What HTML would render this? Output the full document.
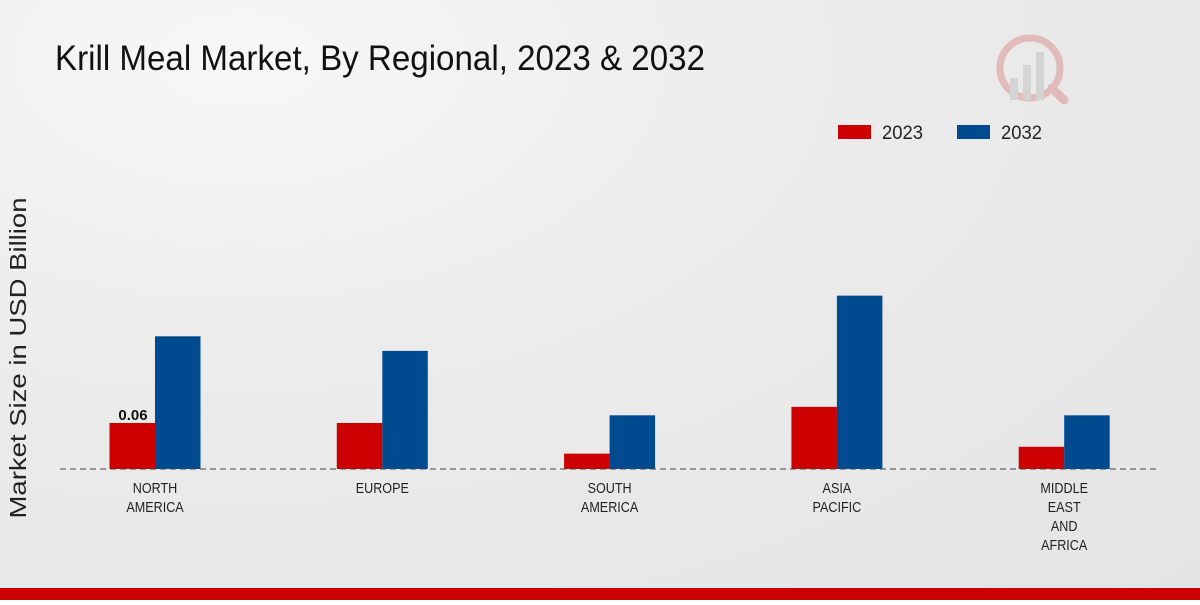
<!DOCTYPE html>
<html><head><meta charset="utf-8"><style>
body{margin:0;width:1200px;height:600px;overflow:hidden;font-family:"Liberation Sans",sans-serif;}
#bg{position:absolute;left:0;top:0;width:1200px;height:600px;background:radial-gradient(ellipse at 20% 10%,#f7f7f7 0%,#ebebeb 45%,#e4e4e4 100%);}
</style></head><body>
<div id="bg">
<svg id="c" width="1200" height="600">
<text x="55" y="70" font-size="35" fill="#111" textLength="650" lengthAdjust="spacingAndGlyphs">Krill Meal Market, By Regional, 2023 &amp; 2032</text>
<text transform="translate(26,358) rotate(-90)" text-anchor="middle" font-size="23" fill="#222" textLength="321" lengthAdjust="spacingAndGlyphs">Market Size in USD Billion</text>
<g>
<rect x="838" y="125" width="33" height="14" fill="#cc0000"/>
<text x="882" y="139" font-size="19" fill="#222" textLength="41" lengthAdjust="spacingAndGlyphs">2023</text>
<rect x="957" y="125" width="33" height="14" fill="#004a8f"/>
<text x="1001" y="139" font-size="19" fill="#222" textLength="41" lengthAdjust="spacingAndGlyphs">2032</text>
</g>
<g opacity="0.25">
<circle cx="1030" cy="68" r="30" fill="none" stroke="#c33" stroke-width="7"/>
<rect x="1010" y="78" width="8" height="22" fill="#999"/><rect x="1023" y="65" width="8" height="35" fill="#999"/><rect x="1036" y="52" width="8" height="48" fill="#999"/>
<line x1="1052" y1="88" x2="1064" y2="100" stroke="#c33" stroke-width="9" stroke-linecap="round"/>
</g>
<g id="bars"></g>
<line x1="60" y1="469" x2="1160" y2="469" stroke="#444" stroke-dasharray="6,4"/>
<g id="labels"></g>
<rect x="0" y="588" width="1200" height="12" fill="#cc0000"/>
</svg></div>
<script>
const categories=[["NORTH","AMERICA"],["EUROPE"],["SOUTH","AMERICA"],["ASIA","PACIFIC"],["MIDDLE","EAST","AND","AFRICA"]];
const values2023=[0.06,0.06,0.02,0.081,0.029];
const values2032=[0.173,0.154,0.07,0.226,0.07];
const valueLabels=["0.06",null,null,null,null];
const NS="http://www.w3.org/2000/svg";
const baseY=469,pxPerUnit=767;
function y(v){return baseY-v*pxPerUnit;}
function xc(i){return 155+i*227.3;}
const bars=document.getElementById('bars'),labels=document.getElementById('labels');
function bar(x,v,color,name){const r=document.createElementNS(NS,'rect');r.setAttribute('x',x);r.setAttribute('y',y(v));r.setAttribute('width',45.5);r.setAttribute('height',baseY-y(v));r.setAttribute('fill',color);


bars.appendChild(r);}
categories.forEach((c,i)=>{
 bar(xc(i)-45.5,values2023[i],'#cc0000','bar-2023-'+i);
 bar(xc(i),values2032[i],'#004a8f','bar-2032-'+i);
 if(valueLabels[i]){const t=document.createElementNS(NS,'text');t.setAttribute('x',xc(i)-22);t.setAttribute('y',y(values2023[i])-3);t.setAttribute('text-anchor','middle');t.setAttribute('font-size','15');t.setAttribute('font-weight','bold');t.setAttribute('fill','#111');t.textContent=valueLabels[i];
 
 
 labels.appendChild(t);}
 c.forEach((line,j)=>{const t=document.createElementNS(NS,'text');t.setAttribute('transform','translate('+xc(i)+','+(493+j*19)+') scale(0.84,1)');t.setAttribute('text-anchor','middle');t.setAttribute('font-size','15');t.setAttribute('fill','#222');t.textContent=line;
 
 
 labels.appendChild(t);});
});
</script>
</body></html>
